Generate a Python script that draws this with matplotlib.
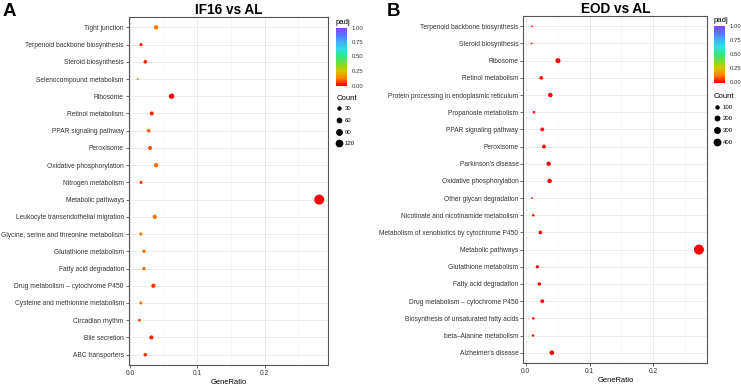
import numpy as np
import matplotlib
matplotlib.use("Agg")
import matplotlib.pyplot as plt
from matplotlib.colors import LinearSegmentedColormap, Normalize
from matplotlib.cm import ScalarMappable
from matplotlib.lines import Line2D

plt.rcParams["font.family"] = ["Liberation Sans", "DejaVu Sans"]

# ---- panel A : IF16 vs AL ----
terms_a = ["Tight junction", "Terpenoid backbone biosynthesis", "Steroid biosynthesis",
           "Selenocompound metabolism", "Ribosome", "Retinol metabolism",
           "PPAR signaling pathway", "Peroxisome", "Oxidative phosphorylation",
           "Nitrogen metabolism", "Metabolic pathways", "Leukocyte transendothelial migration",
           "Glycine, serine and threonine metabolism", "Glutathione metabolism",
           "Fatty acid degradation", "Drug metabolism \u2013 cytochrome P450",
           "Cysteine and methionine metabolism", "Circadian rhythm", "Bile secretion",
           "ABC transporters"]
ratio_a = [0.039, 0.0167, 0.023, 0.0118, 0.062, 0.0325, 0.028, 0.030, 0.039, 0.0167,
           0.281, 0.037, 0.0163, 0.021, 0.021, 0.035, 0.0163, 0.0143, 0.032, 0.023]
count_a = [18, 8, 11, 5, 29, 15, 13, 14, 18, 8, 130, 17, 8, 10, 10, 16, 8, 7, 15, 11]
padj_a = [0.11, 0.02, 0.03, 0.10, 0.0, 0.04, 0.10, 0.08, 0.11, 0.05,
          0.0, 0.11, 0.11, 0.10, 0.10, 0.04, 0.11, 0.06, 0.03, 0.05]
legend_a = [30, 60, 90, 120]

# ---- panel B : EOD vs AL ----
terms_b = ["Terpenoid backbone biosynthesis", "Steroid biosynthesis", "Ribosome",
           "Retinol metabolism", "Protein processing in endoplasmic reticulum",
           "Propanoate metabolism", "PPAR signaling pathway", "Peroxisome",
           "Parkinson's disease", "Oxidative phosphorylation", "Other glycan degradation",
           "Nicotinate and nicotinamide metabolism",
           "Metabolism of xenobiotics by cytochrome P450", "Metabolic pathways",
           "Glutathione metabolism", "Fatty acid degradation",
           "Drug metabolism \u2013 cytochrome P450",
           "Biosynthesis of unsaturated fatty acids", "beta\u2013Alanine metabolism",
           "Alzheimer's disease"]
ratio_b = [0.010, 0.0094, 0.0506, 0.0245, 0.0386, 0.013, 0.026, 0.0287, 0.036, 0.0375,
           0.010, 0.012, 0.023, 0.2714, 0.0183, 0.0214, 0.026, 0.012, 0.0115, 0.041]
count_b = [15, 15, 78, 38, 60, 20, 40, 44, 56, 58, 15, 19, 36, 420, 28, 33, 40, 19, 18, 63]
padj_b = [0.02, 0.02, 0.0, 0.01, 0.0, 0.02, 0.01, 0.01, 0.0, 0.0,
          0.02, 0.02, 0.01, 0.0, 0.01, 0.01, 0.01, 0.02, 0.02, 0.0]
legend_b = [100, 200, 300, 400]

# red -> violet gradient like the ggplot gradientn
rainbow = LinearSegmentedColormap.from_list("rb", [
    (0.00, "#FF0000"), (0.12, "#FF8000"), (0.25, "#D8C400"), (0.38, "#70E030"),
    (0.50, "#30E880"), (0.62, "#30E0E0"), (0.75, "#40B0FF"), (0.88, "#5A70FF"),
    (1.00, "#8A40FF")])
norm = Normalize(0, 1)


def diam_pt(c, cmin, cmax):
    # ggplot scale_size: area scaled, diameter in px -> points
    d_px = 1.8 + 8.2 * np.sqrt((np.asarray(c, float) - cmin) / (cmax - cmin))
    return d_px * 0.72


fig = plt.figure(figsize=(7.41, 3.85), dpi=100)
W, H = 741, 385


def px_axes(x0, y0, x1, y1):
    return fig.add_axes([x0 / W, 1 - y1 / H, (x1 - x0) / W, (y1 - y0) / H])


def panel(box, terms, ratio, count, padj, title, letter, letter_x,
          cbox, cnt_title_xy, leg_vals, leg_anchor):
    ax = px_axes(*box)
    n = len(terms)
    y = np.arange(n)
    cmin, cmax = min(count), max(count)
    ax.scatter(ratio, y, s=diam_pt(count, cmin, cmax) ** 2, c=padj, cmap=rainbow,
               norm=norm, edgecolors="none", zorder=3)
    lo, hi = min(ratio), max(ratio)
    pad = (hi - lo) * 0.05
    ax.set_xlim(lo - pad, hi + pad)
    ax.set_ylim(n - 1 + 0.6, -0.6)
    ax.set_yticks(y)
    ax.set_yticklabels(terms)
    ax.set_xticks([0, 0.1, 0.2])
    ax.set_xticklabels(["0.0", "0.1", "0.2"])
    ax.set_xticks([0.05, 0.15, 0.25], minor=True)
    ax.grid(True, which="major", color="#EBEBEB", lw=0.7, zorder=0)
    ax.grid(True, which="minor", axis="x", color="#F4F4F4", lw=0.5, zorder=0)
    ax.set_axisbelow(True)
    ax.tick_params(axis="both", which="major", labelsize=4.8, length=2, width=0.5,
                   color="#333333", labelcolor="#333333", pad=1.5)
    ax.tick_params(axis="both", which="minor", length=0)
    for sp in ax.spines.values():
        sp.set_color("#555555")
        sp.set_linewidth(0.8)
    ax.set_xlabel("GeneRatio", fontsize=5.4, labelpad=1.5)
    ax.set_title(title, fontsize=9.8, fontweight="bold", pad=2)
    fig.text(letter_x / W, 1 - 11 / H, letter, fontsize=13.5, fontweight="bold",
             va="center", ha="left")

    # padj colour bar
    cax = px_axes(*cbox)
    cb = fig.colorbar(ScalarMappable(norm=norm, cmap=rainbow), cax=cax)
    cb.set_ticks([0, 0.25, 0.5, 0.75, 1.0])
    cb.set_ticklabels(["0.00", "0.25", "0.50", "0.75", "1.00"])
    cb.outline.set_visible(False)
    cax.tick_params(labelsize=4.3, length=2, width=0.4, color="white",
                    labelcolor="#333333", pad=1.5)
    fig.text(cbox[0] / W, 1 - (cbox[1] - 5.5) / H, "padj", fontsize=5.6,
             va="center", ha="left")

    # Count size legend
    handles = [Line2D([], [], marker="o", ls="", color="black", markeredgewidth=0,
                      markersize=0.8 * float(diam_pt(v, cmin, cmax))) for v in leg_vals]
    fig.legend(handles, [str(v) for v in leg_vals], loc="upper left",
               bbox_to_anchor=(leg_anchor[0] / W, 1 - leg_anchor[1] / H),
               frameon=False, fontsize=4.3, labelspacing=1.1, handlelength=1.0,
               handletextpad=0.5, borderpad=0, borderaxespad=0)
    fig.text(cnt_title_xy[0] / W, 1 - cnt_title_xy[1] / H, "Count", fontsize=5.6,
             va="center", ha="left")
    return ax


panel((128.7, 17, 328.3, 365), terms_a, ratio_a, count_a, padj_a, "IF16 vs AL", "A", 3,
      (336, 27.5, 347, 85.5), (336.5, 98.3), legend_a, (336, 106))
panel((523.3, 16, 707.3, 363), terms_b, ratio_b, count_b, padj_b, "EOD vs AL", "B", 387,
      (714, 25.5, 725, 82.5), (714, 96.7), legend_b, (714, 104.5))

fig.savefig("out.png", dpi=100)
